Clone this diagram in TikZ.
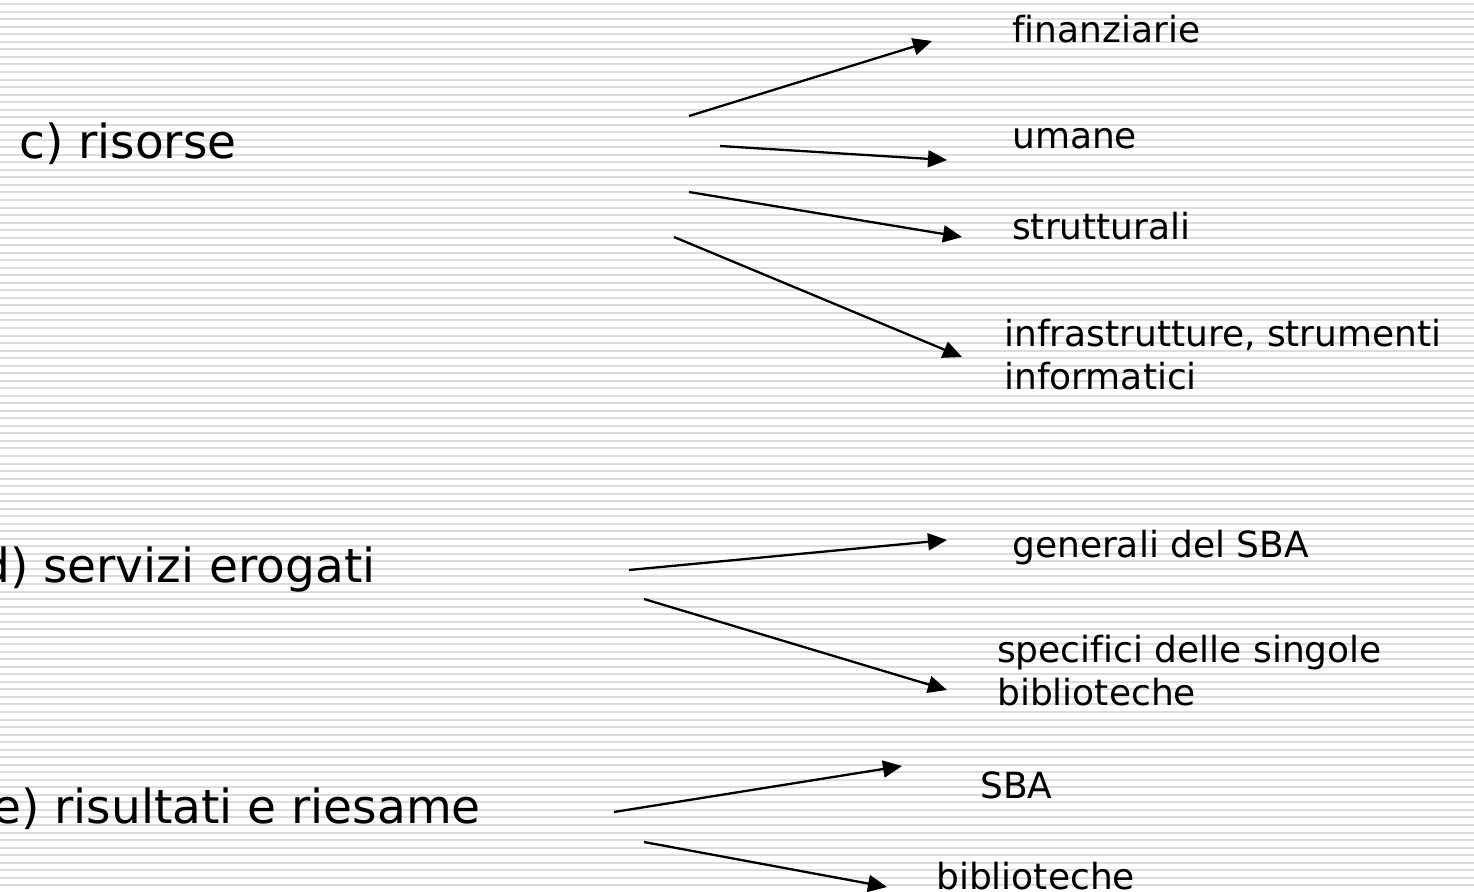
\documentclass[tikz,border=0pt]{standalone}
\usepackage{fontspec}
\setmainfont[Ligatures=NoCommon]{DejaVu Sans}
\usetikzlibrary{arrows.meta}
\definecolor{stripe}{HTML}{DCDCDC}
\tikzset{
  big/.style={inner sep=0pt, anchor=base west, font=\fontsize{47}{54}\selectfont},
  small/.style={inner sep=0pt, anchor=base west, font=\fontsize{36}{43}\selectfont, align=left},
  arr/.style={line width=2.3pt, -{Triangle[length=19pt,width=17pt]}}
}
\begin{document}
\begin{tikzpicture}[x=1pt,y=-1pt]
\useasboundingbox (0,0) rectangle (1474,891);
\clip (0,0) rectangle (1474,891);
\fill[white] (0,0) rectangle (1474,891);
\foreach \k in {0,...,118} {
  \fill[stripe] (0,{3.2+7.53*\k}) rectangle (1474,{5.2+7.53*\k});
}
% main items
\node[big] (c) at (19,158) {c) risorse};
\node[big] (d) at (-20,582) {d) servizi erogati};
\node[big] (e) at (-8,823) {e) risultati e riesame};
% sub items
\node[small] (fin) at (1012,42) {finanziarie};
\node[small] (uma) at (1012,148) {umane};
\node[small] (str) at (1012,239) {strutturali};
\node[small] (inf) at (1004,389) {infrastrutture, strumenti\\informatici};
\node[small] (gen) at (1012,557) {generali del SBA};
\node[small] (spe) at (997,705) {specifici delle singole\\biblioteche};
\node[small] (sba) at (980,798) {SBA};
\node[small] (bib) at (936,889) {biblioteche};
% arrow endpoints
\coordinate (a1s) at (689,116); \coordinate (a1e) at (932,41);
\coordinate (a2s) at (720,146); \coordinate (a2e) at (947,160);
\coordinate (a3s) at (689,192); \coordinate (a3e) at (962,237);
\coordinate (a4s) at (674,237); \coordinate (a4e) at (962,357);
\coordinate (a5s) at (629,570); \coordinate (a5e) at (947,540);
\coordinate (a6s) at (644,599); \coordinate (a6e) at (947,690);
\coordinate (a7s) at (614,812); \coordinate (a7e) at (902,766);
\coordinate (a8s) at (644,842); \coordinate (a8e) at (887,887);
\draw[arr] (a1s) -- (a1e);
\draw[arr] (a2s) -- (a2e);
\draw[arr] (a3s) -- (a3e);
\draw[arr] (a4s) -- (a4e);
\draw[arr] (a5s) -- (a5e);
\draw[arr] (a6s) -- (a6e);
\draw[arr] (a7s) -- (a7e);
\draw[arr] (a8s) -- (a8e);
\end{tikzpicture}
\end{document}
